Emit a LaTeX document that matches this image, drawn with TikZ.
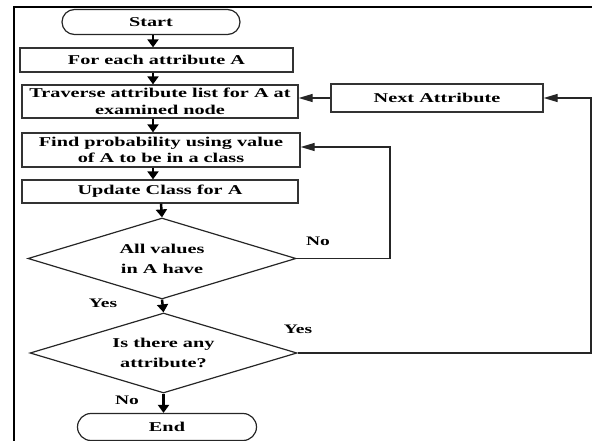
\documentclass[tikz,border=0pt]{standalone}
\usepackage{fontspec}
\setmainfont{Liberation Serif}[FakeStretch=1.5]
\usetikzlibrary{shapes.geometric,shapes.misc,arrows.meta}
\begin{document}
\begin{tikzpicture}[x=1pt,y=-1pt,
  every node/.style={font=\fontsize{13.5}{16.5}\selectfont\bfseries, inner sep=0pt, align=center},
  procbox/.style={draw=black!80, line width=1.3pt, rectangle},
  termbox/.style={draw=black!85, line width=1.2pt, rounded rectangle},
  decbox/.style={draw=black!85, line width=1.2pt, diamond, aspect=3.3,
    font=\fontsize{13.5}{20}\selectfont\bfseries},
  flow/.style={line width=2.5pt, -{Triangle[length=8pt,width=11pt]}},
  side/.style={draw=black!85, line width=1.3pt, -{Triangle[length=14pt,width=8pt]}},
  lbl/.style={font=\fontsize{13}{15}\selectfont\bfseries}]
\useasboundingbox (0,0) rectangle (592,441);

% outer frame (left and top edges)
\draw[line width=2pt] (14,441) -- (14,7) -- (592,7);

% main column
\node[termbox, minimum width=178pt, minimum height=25pt] (start) at (151,22) {Start};
\node[procbox, minimum width=273pt, minimum height=24pt] (b1) at (156.5,60) {For each attribute A};
\node[procbox, minimum width=276pt, minimum height=33pt] (b2) at (160,101.5) {Traverse attribute list for A at\\examined node};
\node[procbox, minimum width=278pt, minimum height=34pt] (b3) at (161,150) {Find probability using value\\of A to be in a class};
\node[procbox, minimum width=276pt, minimum height=23pt] (b4) at (160,191.5) {Update Class for A};
\node[decbox, minimum width=268pt, minimum height=81pt] (d1) at (162,258.5) {All values\\in A have};
\node[decbox, minimum width=267pt, minimum height=80pt] (d2) at (163.5,353) {Is there any\\attribute?};
\node[termbox, minimum width=179pt, minimum height=27pt] (end) at (167,427) {End};

% side box
\node[procbox, minimum width=212pt, minimum height=28pt] (next) at (437,98) {Next Attribute};

% spine positions for the downward arrows
\coordinate (upper) at (153,0);
\coordinate (lower) at (161,0);

\draw[flow] (upper |- start.south) -- (upper |- b1.north);
\draw[flow] (upper |- b1.south) -- (upper |- b2.north);
\draw[flow] (upper |- b2.south) -- (upper |- b3.north);
\draw[flow] (upper |- b3.south) -- (upper |- b4.north);
\draw[flow] (lower |- b4.south) -- (d1.north);
\draw[flow] (d1.south) -- (d2.north);
\draw[flow] (d2.south) -- (d2.south |- end.north);

% "No" loop back to the probability step
\coordinate (nocornerA) at (390,258.5);
\coordinate (nocornerB) at (390,147);
\draw[side] (d1.east) -- (nocornerA) -- (nocornerB) -- (nocornerB -| b3.east);

% "Yes" loop back through Next Attribute
\coordinate (yescornerA) at (591,353);
\coordinate (yescornerB) at (591,98);
\draw[side] (d2.east) -- (yescornerA) -- (yescornerB) -- (next.east);
\draw[side] (next.west) -- (next.west -| b2.east);

% branch labels
\node[lbl] (lno1) at (318,241) {No};
\node[lbl] (lyes1) at (103,303) {Yes};
\node[lbl] (lyes2) at (298,329) {Yes};
\node[lbl] (lno2) at (127,400) {No};
\end{tikzpicture}
\end{document}
